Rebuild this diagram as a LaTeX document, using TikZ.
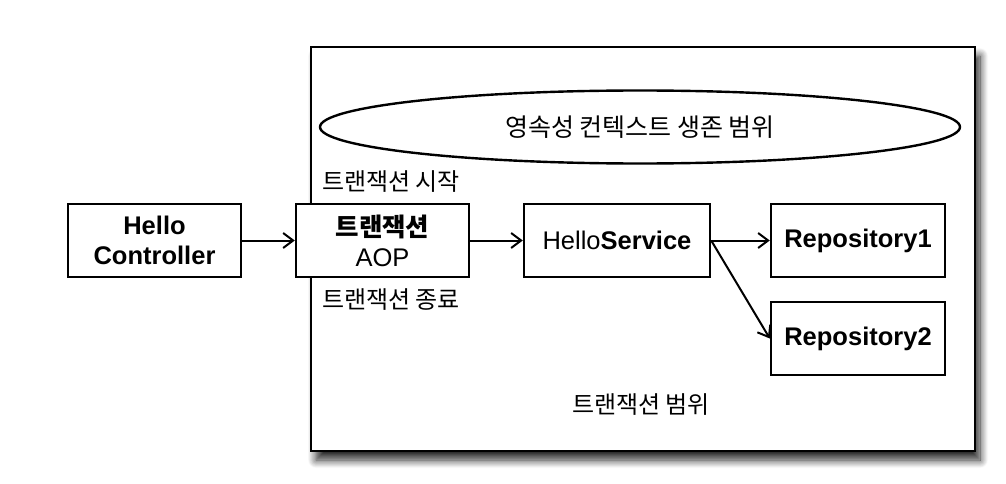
\documentclass[tikz,border=0pt]{standalone}
\usepackage{fontspec}
\setmainfont{Liberation Sans}
\newfontfamily\kr{Noto Sans CJK KR}
\usetikzlibrary{arrows.meta,shapes.geometric,shadows.blur}
\begin{document}
\begin{tikzpicture}[x=1pt,y=-1pt,
  box/.style={draw, line width=2.4pt, fill=white, minimum width=173pt, minimum height=73pt, inner sep=0pt, align=center, font=\fontsize{25.5}{30}\selectfont},
  lbl/.style={font=\kr\fontsize{24}{28}\selectfont, inner sep=0pt},
  arr/.style={line width=2pt, -{Straight Barb[length=10pt,width=15pt,line width=2pt]}}
]
\useasboundingbox (0,0) rectangle (1006,484);
\node[draw, line width=2.6pt, fill=white, minimum width=664pt, minimum height=404pt, inner sep=0pt,
  blur shadow={shadow xshift=5pt, shadow yshift=-9pt, shadow blur radius=8pt, shadow blur steps=12, shadow opacity=85}] (scope) at (643,249) {};
\node[ellipse, draw, line width=2.4pt, minimum width=640pt, minimum height=73pt, inner sep=0pt,
  font=\kr\fontsize{25}{29}\selectfont] (pc) at (640,127) {영속성 컨텍스트 생존 범위};

\node[box] (hc) at (154.5,240.5) {\textbf{Hello}\\\textbf{Controller}};
\node[box] (aop) at (382.5,240.5) {{\kr\bfseries 트랜잭션}\\AOP};
\node[box, minimum width=186pt] (hs) at (617,240.5) {Hello\textbf{Service}};
\node[box, minimum width=174pt] (r1) at (858,240.5) {\textbf{Repository1}};
\node[box, minimum width=174pt] (r2) at (858,338.5) {\textbf{Repository2}};

\node[lbl, anchor=west] (ts) at (322,182) {트랜잭션 시작};
\node[lbl, anchor=west] (te) at (322,300) {트랜잭션 종료};
\node[lbl] (tr) at (641,405) {트랜잭션 범위};

\draw[arr] (hc.east) -- (aop.west);
\draw[arr] (aop.east) -- (hs.west);
\draw[arr] (hs.east) -- (r1.west);
\draw[arr] (hs.east) -- (r2.west);
\end{tikzpicture}
\end{document}
